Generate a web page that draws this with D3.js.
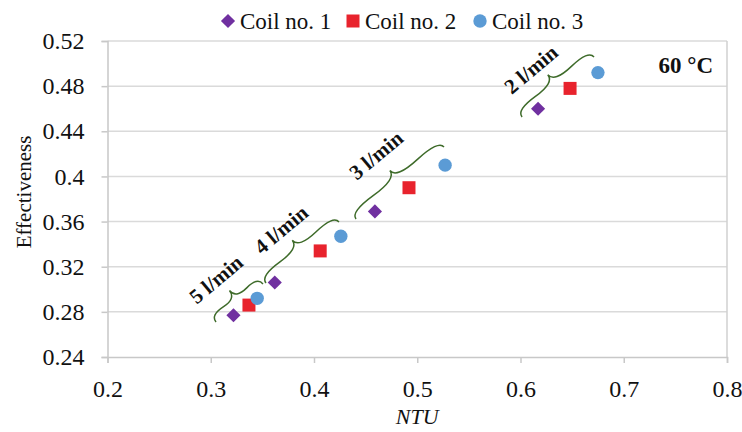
<!DOCTYPE html>
<html>
<head>
<meta charset="utf-8">
<script src="https://cdn.jsdelivr.net/npm/d3@7"></script>
<style>
  body { margin: 0; background: #fff; }
  svg text { font-family: "Liberation Serif", "Times New Roman", serif; fill: #111; }
</style>
</head>
<body>
<svg id="chart" width="742" height="432"></svg>
<script>
// series values (NTU, effectiveness)
var coil1NTU = [0.322, 0.362, 0.459, 0.617];
var coil1Eff = [0.277, 0.306, 0.369, 0.460];
var coil2NTU = [0.337, 0.406, 0.492, 0.648];
var coil2Eff = [0.286, 0.334, 0.390, 0.478];
var coil3NTU = [0.345, 0.426, 0.527, 0.675];
var coil3Eff = [0.292, 0.347, 0.410, 0.492];

var seriesNames = ["Coil no. 1", "Coil no. 2", "Coil no. 3"];
var xTicks = [0.2, 0.3, 0.4, 0.5, 0.6, 0.7, 0.8];
var yTicks = [0.24, 0.28, 0.32, 0.36, 0.4, 0.44, 0.48, 0.52];

// flow-rate braces (ends in data units) and their labels
var flowLabels = ["5 l/min", "4 l/min", "3 l/min", "2 l/min"];
var braceFrom = [[0.3506, 0.3047], [0.4242, 0.3596], [0.5259, 0.4261], [0.6712, 0.5059]];
var braceTo   = [[0.3051, 0.2710], [0.3535, 0.3056], [0.4407, 0.3623], [0.6015, 0.4527]];
var labelAt   = [[0.305, 0.309], [0.368, 0.353], [0.460, 0.419], [0.610, 0.495]];

var svg = d3.select("#chart");
var margin = {left: 107.5, right: 15, top: 41, bottom: 75};
var W = 742, H = 432;

var x = d3.scaleLinear().domain([0.2, 0.8]).range([margin.left, W - margin.right]);
var y = d3.scaleLinear().domain([0.24, 0.52]).range([H - margin.bottom, margin.top]);

// gridlines
svg.append("g")
  .selectAll("line")
  .data(yTicks.slice(1))
  .enter().append("line")
  .attr("x1", x(0.2)).attr("x2", x(0.8))
  .attr("y1", function(d) { return y(d); })
  .attr("y2", function(d) { return y(d); })
  .attr("stroke", "#dadada").attr("stroke-width", 1.5);

// right border
svg.append("line")
  .attr("x1", x(0.8)).attr("x2", x(0.8))
  .attr("y1", y(0.52)).attr("y2", y(0.24))
  .attr("stroke", "#d0d0d0").attr("stroke-width", 1.5);

var xAxis = svg.append("g")
  .attr("transform", "translate(0," + y(0.24) + ")")
  .call(d3.axisBottom(x).tickValues(xTicks).tickFormat(d3.format("")).tickSize(6).tickPadding(17));
var yAxis = svg.append("g")
  .attr("transform", "translate(" + x(0.2) + ",0)")
  .call(d3.axisLeft(y).tickValues(yTicks).tickFormat(d3.format("")).tickSize(6).tickPadding(17));

[xAxis, yAxis].forEach(function(a) {
  a.attr("font-family", null).attr("font-size", null);
  a.selectAll("path, line").attr("stroke", "#c8c8c8").attr("stroke-width", 1.5);
  a.selectAll("text").style("font-size", "24px");
});

// axis titles
svg.append("text")
  .attr("x", (x(0.2) + x(0.8)) / 2).attr("y", 424)
  .attr("text-anchor", "middle")
  .style("font-size", "22px").style("font-style", "italic")
  .text("NTU");

svg.append("text")
  .attr("transform", "translate(31,192) rotate(-90)")
  .attr("text-anchor", "middle")
  .style("font-size", "21px")
  .text("Effectiveness");

// curly brace
function bracePath(x1, y1, x2, y2, w, q) {
  var dx = x1 - x2, dy = y1 - y2;
  var len = Math.sqrt(dx * dx + dy * dy);
  dx = dx / len; dy = dy / len;
  var qx1 = x1 + q * w * dy, qy1 = y1 - q * w * dx;
  var qx2 = (x1 - .25 * len * dx) + (1 - q) * w * dy, qy2 = (y1 - .25 * len * dy) - (1 - q) * w * dx;
  var tx1 = (x1 - .5 * len * dx) + w * dy, ty1 = (y1 - .5 * len * dy) - w * dx;
  var qx3 = x2 + q * w * dy, qy3 = y2 - q * w * dx;
  var qx4 = (x1 - .75 * len * dx) + (1 - q) * w * dy, qy4 = (y1 - .75 * len * dy) - (1 - q) * w * dx;
  return "M" + x1 + "," + y1 + " Q" + qx1 + "," + qy1 + " " + qx2 + "," + qy2 +
    " T" + tx1 + "," + ty1 + " M" + x2 + "," + y2 + " Q" + qx3 + "," + qy3 + " " + qx4 + "," + qy4 +
    " T" + tx1 + "," + ty1;
}

svg.append("g").selectAll("path")
  .data(flowLabels)
  .enter().append("path")
  .attr("d", function(d, i) {
    return bracePath(x(braceFrom[i][0]), y(braceFrom[i][1]), x(braceTo[i][0]), y(braceTo[i][1]), 16, 0.55);
  })
  .attr("fill", "none").attr("stroke", "#3e6b2a").attr("stroke-width", 1.5);

svg.append("g").selectAll("text")
  .data(flowLabels)
  .enter().append("text")
  .attr("transform", function(d, i) {
    return "translate(" + x(labelAt[i][0]) + "," + y(labelAt[i][1]) + ") rotate(-40)";
  })
  .attr("text-anchor", "middle").attr("dy", "0.35em")
  .style("font-size", "21px").style("font-weight", "bold")
  .text(function(d) { return d; });

svg.append("text")
  .attr("x", 713).attr("y", 73)
  .attr("text-anchor", "end")
  .style("font-size", "23px").style("font-weight", "bold")
  .text("60 °C");

// markers
var colors = ["#7030a0", "#e8232d", "#5b9bd5"];
var symbols = [
  d3.symbol().type(d3.symbolSquare).size(100),
  d3.symbol().type(d3.symbolSquare).size(169),
  d3.symbol().type(d3.symbolCircle).size(140)
];
var rotations = [45, 0, 0];

var series = [
  d3.zip(coil1NTU, coil1Eff),
  d3.zip(coil2NTU, coil2Eff),
  d3.zip(coil3NTU, coil3Eff)
];

series.forEach(function(pts, s) {
  svg.append("g").selectAll("path")
    .data(pts)
    .enter().append("path")
    .attr("d", symbols[s])
    .attr("transform", function(d) {
      return "translate(" + x(d[0]) + "," + y(d[1]) + ") rotate(" + rotations[s] + ")";
    })
    .attr("fill", colors[s]);
});

// legend
var legendX = [228, 353, 480];
var legend = svg.append("g").selectAll("g")
  .data(seriesNames)
  .enter().append("g")
  .attr("transform", function(d, i) { return "translate(" + legendX[i] + ",21)"; });

legend.append("path")
  .attr("d", function(d, i) { return symbols[i](); })
  .attr("transform", function(d, i) { return "rotate(" + rotations[i] + ")"; })
  .attr("fill", function(d, i) { return colors[i]; });

legend.append("text")
  .attr("x", 12).attr("y", 8)
  .style("font-size", "23px")
  .text(function(d) { return d; });
</script>
</body>
</html>
